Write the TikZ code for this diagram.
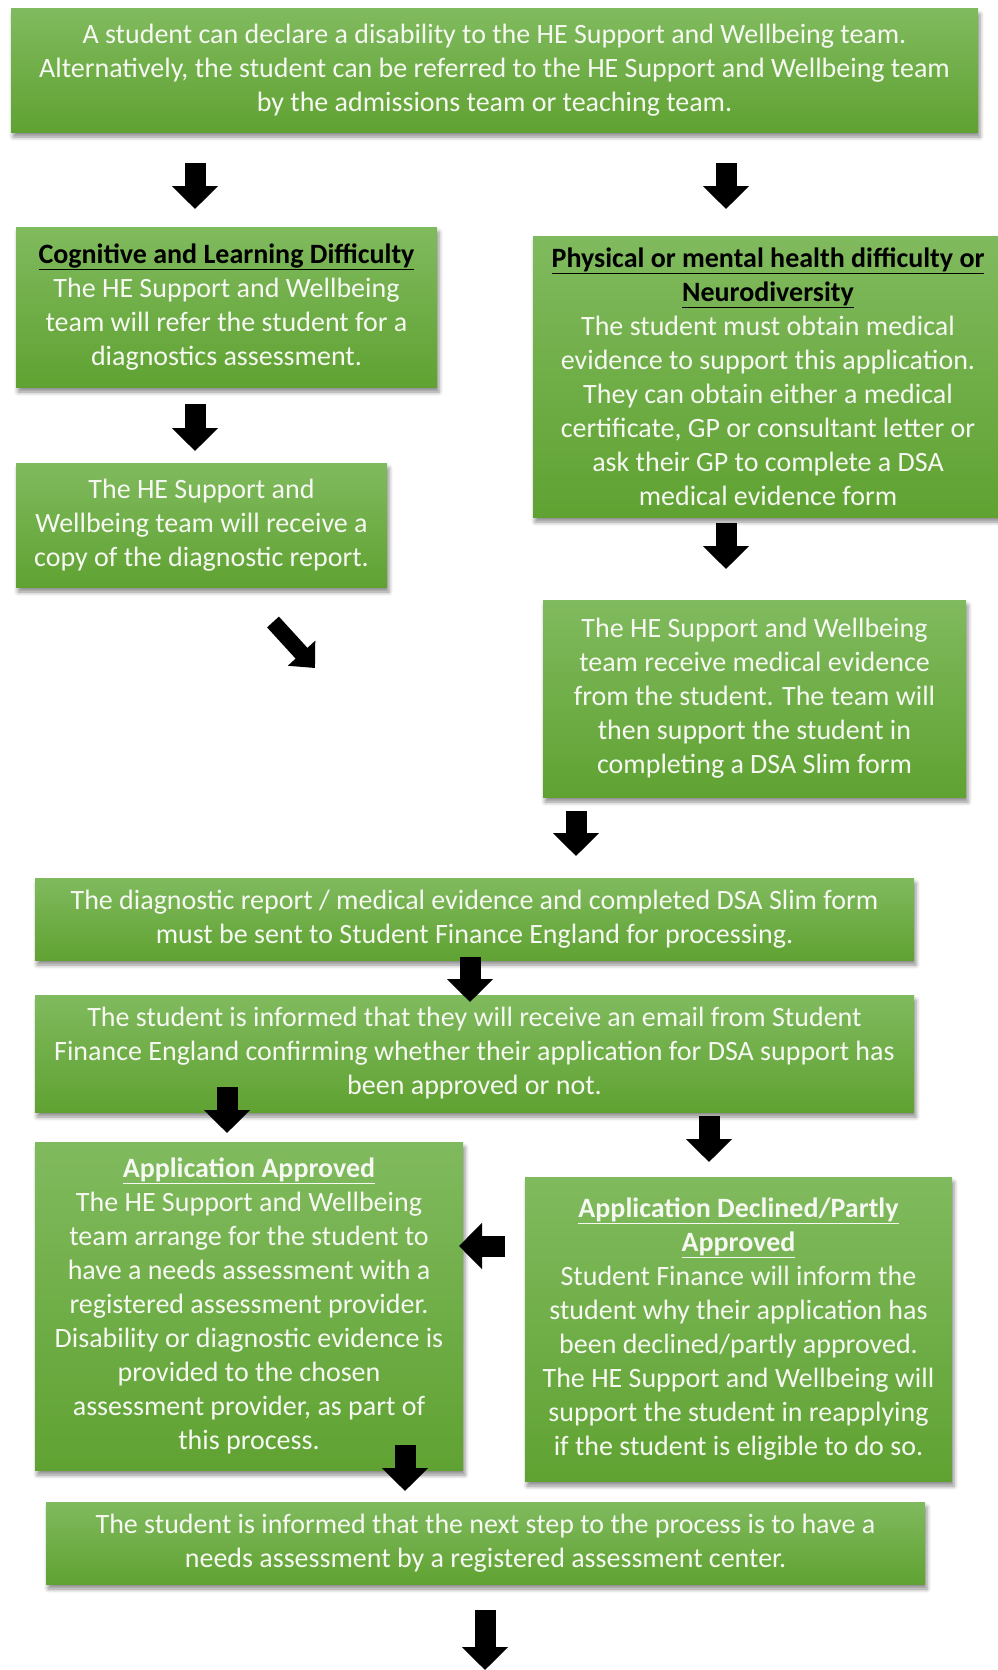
\documentclass[tikz,border=0pt]{standalone}
\usepackage{fontspec}
\setmainfont{Carlito}
\usetikzlibrary{arrows.meta,shadows.blur}
\definecolor{gtop}{RGB}{128,186,94}
\definecolor{gbot}{RGB}{96,162,50}
\definecolor{txt}{RGB}{246,248,242}
\newcommand{\hdk}[1]{{\bfseries\color{black}\underline{#1}}}
\newcommand{\hwt}[1]{{\bfseries\underline{#1}}}
\begin{document}
\begin{tikzpicture}[x=1pt,y=-1pt,
  box/.style={rectangle, top color=gtop, bottom color=gbot, draw=none, text=txt,
    align=center, inner sep=0pt, font=\fontsize{28}{34}\selectfont,
    blur shadow={shadow xshift=2pt, shadow yshift=-5pt, shadow blur radius=4pt, shadow opacity=45}},
  blockarrow/.style={black, line width=21pt, -{Triangle[width=45pt,length=23pt]}},
  smallarrow/.style={black, line width=16pt, -{Triangle[width=36pt,length=20pt]}}]
\useasboundingbox (0,0) rectangle (997,1670);

\node[box, minimum width=967pt, minimum height=123pt] (top) at (494.5,70.5)
 {A student can declare a disability to the HE Support and Wellbeing team.\\
  Alternatively, the student can be referred to the HE Support and Wellbeing team\\
  by the admissions team or teaching team.};

\node[box, minimum width=421pt, minimum height=160pt] (cog) at (226.5,307)
 {\hdk{Cognitive and Learning Difficulty}\\
  The HE Support and Wellbeing\\
  team will refer the student for a\\
  diagnostics assessment.};

\node[box, minimum width=470pt, minimum height=281pt] (phys) at (768,376.5)
 {\hdk{Physical or mental health difficulty or}\\
  \hdk{Neurodiversity}\\
  The student must obtain medical\\
  evidence to support this application.\\
  They can obtain either a medical\\
  certificate, GP or consultant letter or\\
  ask their GP to complete a DSA\\
  medical evidence form};

\node[box, minimum width=371pt, minimum height=124pt] (copy) at (201.5,525)
 {The HE Support and\\
  Wellbeing team will receive a\\
  copy of the diagnostic report.};

\node[box, minimum width=423pt, minimum height=197pt] (med) at (754.5,698.5)
 {The HE Support and Wellbeing\\
  team receive medical evidence\\
  from the student. The team will\\
  then support the student in\\
  completing a DSA Slim form};

\node[box, minimum width=879pt, minimum height=82pt] (diag) at (474.5,919)
 {The diagnostic report / medical evidence and completed DSA Slim form\\
  must be sent to Student Finance England for processing.};

\node[box, minimum width=879pt, minimum height=117pt] (inform) at (474.5,1053.5)
 {The student is informed that they will receive an email from Student\\
  Finance England confirming whether their application for DSA support has\\
  been approved or not.};

\node[box, minimum width=428pt, minimum height=328pt] (appr) at (249,1306)
 {\hwt{Application Approved}\\
  The HE Support and Wellbeing\\
  team arrange for the student to\\
  have a needs assessment with a\\
  registered assessment provider.\\
  Disability or diagnostic evidence is\\
  provided to the chosen\\
  assessment provider, as part of\\
  this process.};

\node[box, minimum width=427pt, minimum height=304pt] (decl) at (738.5,1329)
 {\hwt{Application Declined/Partly}\\
  \hwt{Approved}\\
  Student Finance will inform the\\
  student why their application has\\
  been declined/partly approved.\\
  The HE Support and Wellbeing will\\
  support the student in reapplying\\
  if the student is eligible to do so.};

\node[box, minimum width=879pt, minimum height=82pt] (next) at (485.5,1543)
 {The student is informed that the next step to the process is to have a\\
  needs assessment by a registered assessment center.};

% arrows
\coordinate (a1s) at (195,163);  \coordinate (a1e) at (195,209);
\coordinate (a2s) at (726,163);  \coordinate (a2e) at (726,209);
\coordinate (a3s) at (195,404);  \coordinate (a3e) at (195,451);
\coordinate (a4s) at (726,523);  \coordinate (a4e) at (726,569);
\coordinate (ads) at (273,622);  \coordinate (ade) at (315,668);
\coordinate (a5s) at (576,811);  \coordinate (a5e) at (576,856);
\coordinate (a6s) at (470,957);  \coordinate (a6e) at (470,1002);
\coordinate (a7s) at (227,1087); \coordinate (a7e) at (227,1133);
\coordinate (a8s) at (709,1116); \coordinate (a8e) at (709,1162);
\coordinate (als) at (505,1246); \coordinate (ale) at (459,1246);
\coordinate (a9s) at (405,1445); \coordinate (a9e) at (405,1491);
\coordinate (a10s) at (485,1610); \coordinate (a10e) at (485,1670);

\draw[blockarrow] (a1s) -- (a1e);
\draw[blockarrow] (a2s) -- (a2e);
\draw[blockarrow] (a3s) -- (a3e);
\draw[blockarrow] (a4s) -- (a4e);
\draw[smallarrow] (ads) -- (ade);
\draw[blockarrow] (a5s) -- (a5e);
\draw[blockarrow] (a6s) -- (a6e);
\draw[blockarrow] (a7s) -- (a7e);
\draw[blockarrow] (a8s) -- (a8e);
\draw[blockarrow] (als) -- (ale);
\draw[blockarrow] (a9s) -- (a9e);
\draw[blockarrow] (a10s) -- (a10e);
\end{tikzpicture}
\end{document}
